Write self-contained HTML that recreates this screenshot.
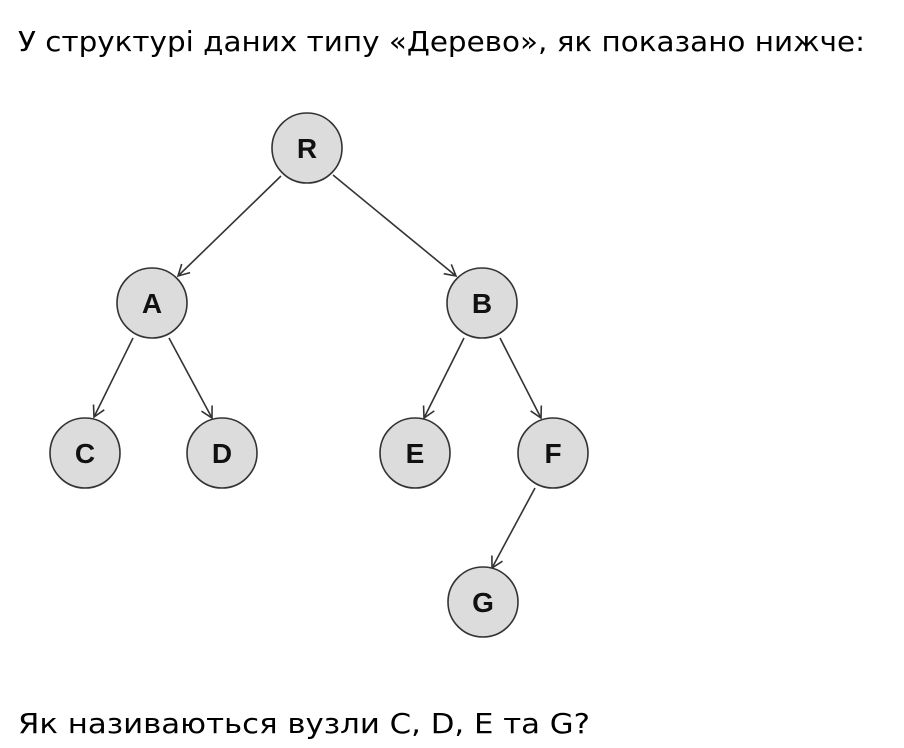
<!DOCTYPE html>
<html><head><meta charset="utf-8"><style>
html,body{margin:0;padding:0;background:#fff;}
svg{display:block;}
</style></head><body>
<svg width="904" height="748" viewBox="0 0 904 748" xmlns="http://www.w3.org/2000/svg">
<defs>
<marker id="ar" markerWidth="14" markerHeight="14" refX="12" refY="7" orient="auto" markerUnits="userSpaceOnUse">
<path d="M1,1 L12,7 L1,13" fill="none" stroke="#333" stroke-width="1.6"/>
</marker>
</defs>
<text x="18" y="51" font-family="DejaVu Sans, Verdana, sans-serif" font-size="28" fill="#000" textLength="847" lengthAdjust="spacingAndGlyphs">У структурі даних типу «Дерево», як показано нижче:</text>
<text x="18" y="733" font-family="DejaVu Sans, Verdana, sans-serif" font-size="28" fill="#000" textLength="572" lengthAdjust="spacingAndGlyphs">Як називаються вузли C, D, E та G?</text>
<g stroke="#333" stroke-width="1.6" fill="none" marker-end="url(#ar)">
<line x1="281" y1="176" x2="178" y2="276"/>
<line x1="333" y1="175" x2="456" y2="276"/>
<line x1="133" y1="338" x2="94" y2="417"/>
<line x1="169" y1="338" x2="212" y2="418"/>
<line x1="464" y1="338" x2="424" y2="418"/>
<line x1="500" y1="338" x2="541" y2="418"/>
<line x1="535" y1="488" x2="492" y2="568"/>
</g>
<g fill="#dcdcdc" stroke="#333" stroke-width="1.6">
<circle cx="307" cy="148" r="35"/>
<circle cx="152" cy="303" r="35"/>
<circle cx="482" cy="303" r="35"/>
<circle cx="85" cy="453" r="35"/>
<circle cx="222" cy="453" r="35"/>
<circle cx="415" cy="453" r="35"/>
<circle cx="553" cy="453" r="35"/>
<circle cx="483" cy="602" r="35"/>
</g>
<g font-family="Liberation Sans Narrow, Liberation Sans, sans-serif" font-weight="bold" font-size="28" fill="#111" text-anchor="middle">
<text x="307" y="158">R</text>
<text x="152" y="313">A</text>
<text x="482" y="313">B</text>
<text x="85" y="463">C</text>
<text x="222" y="463">D</text>
<text x="415" y="463">E</text>
<text x="553" y="463">F</text>
<text x="483" y="612">G</text>
</g>
</svg>
</body></html>
